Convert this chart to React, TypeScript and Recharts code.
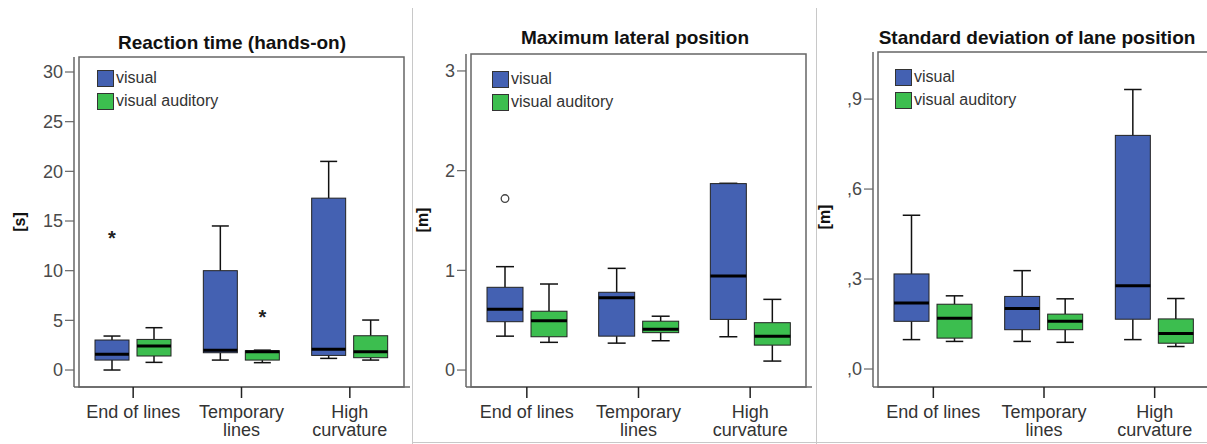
import React from 'react'
import { ComposedChart, Bar, XAxis, YAxis, Legend, ReferenceArea } from 'recharts'

// categories shared by all three panels
const categories = ['End of lines', 'Temporary\nlines', 'High\ncurvature']

// five-number summaries per category: [min, q1, median, q3, max]
const rtVisual = [[0, 1.0, 1.58, 3.02, 3.42], [1.0, 1.74, 2.0, 10.0, 14.5], [1.17, 1.47, 2.08, 17.3, 21.0]]
const rtAuditory = [[0.77, 1.41, 2.41, 3.08, 4.26], [0.74, 1.0, 1.84, 1.94, 2.0], [1.0, 1.24, 1.84, 3.45, 5.03]]
const rtVisualOut = [13.6, null, null]
const rtAuditoryOut = [null, 5.63, null]

const mlpVisual = [[0.34, 0.485, 0.61, 0.83, 1.037], [0.27, 0.34, 0.726, 0.78, 1.02], [0.334, 0.508, 0.943, 1.87, 1.873]]
const mlpAuditory = [[0.278, 0.334, 0.495, 0.59, 0.863], [0.294, 0.375, 0.41, 0.49, 0.54], [0.09, 0.25, 0.34, 0.475, 0.709]]
const mlpVisualOut = [1.72, null, null]
const mlpAuditoryOut = [null, null, null]

const sdlpVisual = [[0.098, 0.159, 0.22, 0.317, 0.513], [0.092, 0.131, 0.202, 0.242, 0.328], [0.098, 0.166, 0.278, 0.779, 0.932]]
const sdlpAuditory = [[0.092, 0.103, 0.169, 0.216, 0.244], [0.089, 0.131, 0.159, 0.183, 0.234], [0.075, 0.086, 0.118, 0.167, 0.235]]
const sdlpVisualOut = [null, null, null]
const sdlpAuditoryOut = [null, null, null]

const rtTicks = [0, 5, 10, 15, 20, 25, 30]
const mlpTicks = [0, 1, 2, 3]
const sdlpTicks = [0, 0.3, 0.6, 0.9]

const BLUE = '#4461b2'
const GREEN = '#3cbe4f'
const FONT = '"Liberation Sans", Arial, sans-serif'

const buildRows = (vis: number[][], aud: number[][], visOut: (number | null)[], audOut: (number | null)[]) =>
  categories.map((name, i) => ({ name, visual: vis[i], auditory: aud[i], visualOut: visOut[i], auditoryOut: audOut[i] }))

function BoxShape(props: any) {
  const { x, y, width, height, payload, fill, k, outlier } = props
  const s: number[] = payload[k]
  const [mn, q1, med, q3, mx] = s
  const top = Math.min(y, y + height)
  const h = Math.abs(height)
  const ppu = h / (q3 - q1)
  const py = (v: number) => top + (q3 - v) * ppu
  const cx = x + width / 2
  const cap = width / 4
  const out = payload[k + 'Out']
  return (
    <g>
      <line x1={cx} x2={cx} y1={py(mx)} y2={top} stroke="#111" strokeWidth={1.5} />
      <line x1={cx - cap} x2={cx + cap} y1={py(mx)} y2={py(mx)} stroke="#111" strokeWidth={1.5} />
      <line x1={cx} x2={cx} y1={top + h} y2={py(mn)} stroke="#111" strokeWidth={1.5} />
      <line x1={cx - cap} x2={cx + cap} y1={py(mn)} y2={py(mn)} stroke="#111" strokeWidth={1.5} />
      <rect x={x} y={top} width={width} height={h} fill={fill} stroke="#222" strokeWidth={1} />
      <line x1={x} x2={x + width} y1={py(med)} y2={py(med)} stroke="#000" strokeWidth={3} />
      {out != null && outlier === 'star' && (
        <text x={cx} y={py(out) + 10} textAnchor="middle" fontSize={20} fontWeight="bold" fill="#222" fontFamily={FONT}>*</text>
      )}
      {out != null && outlier === 'circle' && (
        <circle cx={cx} cy={py(out)} r={3.8} fill="#fff" stroke="#444" strokeWidth={1.3} />
      )}
    </g>
  )
}

function CatTick(props: any) {
  const { x, y, payload } = props
  const lines = String(payload.value).split('\n')
  return (
    <text x={x} y={y + 18} textAnchor="middle" fontSize={18} fill="#333" fontFamily={FONT}>
      {lines.map((l, i) => (
        <tspan key={i} x={x} dy={i === 0 ? 0 : 18}>{l}</tspan>
      ))}
    </text>
  )
}

function BoxLegend(props: any) {
  const { payload } = props
  return (
    <div style={{ fontFamily: FONT }}>
      {(payload || []).map((p: any, i: number) => (
        <div key={i} style={{ display: 'flex', alignItems: 'center', height: 16, marginBottom: 7 }}>
          <span style={{ width: 15, height: 15, background: p.color, border: '1px solid #333', display: 'inline-block' }} />
          <span style={{ fontSize: 16, color: '#333', marginLeft: 2, lineHeight: '16px' }}>{p.value}</span>
        </div>
      ))}
    </div>
  )
}

type PanelProps = {
  left: number; width: number; yAxisW: number; top: number; right: number
  rows: any[]; domain: [number, number]; ticks: number[]; fmt?: (v: number) => string
  barSize: number; outlier: 'star' | 'circle'; legendPos: [number, number]
}

function Panel(p: PanelProps) {
  return (
    <div style={{ position: 'absolute', left: p.left, top: 0 }}>
      <ComposedChart width={p.width} height={444} data={p.rows} barSize={p.barSize} barGap={8}
        margin={{ top: p.top, right: p.right, bottom: 0, left: 0 }}>
        <XAxis dataKey="name" height={57} tick={<CatTick />} tickSize={11} interval={0}
          padding={{ left: 5, right: 6 }} axisLine={{ stroke: '#666', strokeWidth: 1.5 }} tickLine={{ stroke: '#222', strokeWidth: 1.5 }} />
        <YAxis width={p.yAxisW} domain={p.domain} ticks={p.ticks} allowDataOverflow type="number"
          tickFormatter={p.fmt} tickSize={9} tickMargin={2}
          tick={{ fontSize: 18, fill: '#4a4a4a', fontFamily: FONT }}
          axisLine={{ stroke: '#666', strokeWidth: 1.5 }} tickLine={{ stroke: '#666', strokeWidth: 1.2 }} />
        <ReferenceArea y1={p.domain[0]} y2={p.domain[1]} fill="none" stroke="#666" strokeWidth={1.5} ifOverflow="visible" />
        <Legend layout="vertical" align="center" verticalAlign="middle" content={<BoxLegend />}
          wrapperStyle={{ left: p.legendPos[0], top: p.legendPos[1], width: 'auto' }} />
        <Bar dataKey={(d: any) => [d.visual[1], d.visual[3]]} name="visual" fill={BLUE} isAnimationActive={false}
          shape={(s: any) => <BoxShape {...s} k="visual" outlier={p.outlier} />} />
        <Bar dataKey={(d: any) => [d.auditory[1], d.auditory[3]]} name="visual auditory" fill={GREEN} isAnimationActive={false}
          shape={(s: any) => <BoxShape {...s} k="auditory" outlier={p.outlier} />} />
      </ComposedChart>
    </div>
  )
}

const titleStyle = (cx: number, baseline: number): React.CSSProperties => ({
  position: 'absolute', left: cx, top: baseline - 17, transform: 'translateX(-50%)', whiteSpace: 'nowrap',
  fontFamily: FONT, fontWeight: 'bold', fontSize: 19, lineHeight: '20px', color: '#111'
})
const unitStyle = (cx: number, cy: number): React.CSSProperties => ({
  position: 'absolute', left: cx, top: cy, transform: 'translate(-50%, -50%) rotate(-90deg)', whiteSpace: 'nowrap',
  fontFamily: FONT, fontWeight: 'bold', fontSize: 16, color: '#111'
})

export default function App() {
  const sdlpFmt = (v: number) => v.toFixed(1).replace('0.', ',')
  return (
    <div style={{ position: 'absolute', left: 0, top: 0, width: 1207, height: 444, overflow: 'hidden', background: '#fff' }}>
      <div style={{ position: 'absolute', left: 412, top: 8, width: 0, height: 436, borderLeft: '1px solid #c8c8c8' }} />
      <div style={{ position: 'absolute', left: 816, top: 8, width: 0, height: 436, borderLeft: '1px solid #c8c8c8' }} />
      <div style={{ position: 'absolute', left: 412, top: 442, width: 795, height: 0, borderTop: '1px solid #c8c8c8' }} />

      <Panel left={0} width={412} yAxisW={74} top={57} right={2} rows={buildRows(rtVisual, rtAuditory, rtVisualOut, rtAuditoryOut)}
        domain={[-1.71, 31.51]} ticks={rtTicks} barSize={34} outlier="star" legendPos={[97, 70]} />
      <Panel left={412} width={404} yAxisW={54} top={54} right={4} rows={buildRows(mlpVisual, mlpAuditory, mlpVisualOut, mlpAuditoryOut)}
        domain={[-0.17, 3.17]} ticks={mlpTicks} barSize={36} outlier="circle" legendPos={[80, 71]} />
      <Panel left={816} width={400} yAxisW={57} top={52} right={0} rows={buildRows(sdlpVisual, sdlpAuditory, sdlpVisualOut, sdlpAuditoryOut)}
        domain={[-0.06, 1.057]} ticks={sdlpTicks} fmt={sdlpFmt} barSize={35} outlier="circle" legendPos={[79, 69]} />

      <div style={titleStyle(232, 50)}>Reaction time (hands-on)</div>
      <div style={titleStyle(635, 45)}>Maximum lateral position</div>
      <div style={titleStyle(1037, 45)}>Standard deviation of lane position</div>
      <div style={unitStyle(20, 222)}>[s]</div>
      <div style={unitStyle(423, 220)}>[m]</div>
      <div style={unitStyle(825, 217)}>[m]</div>
    </div>
  )
}
